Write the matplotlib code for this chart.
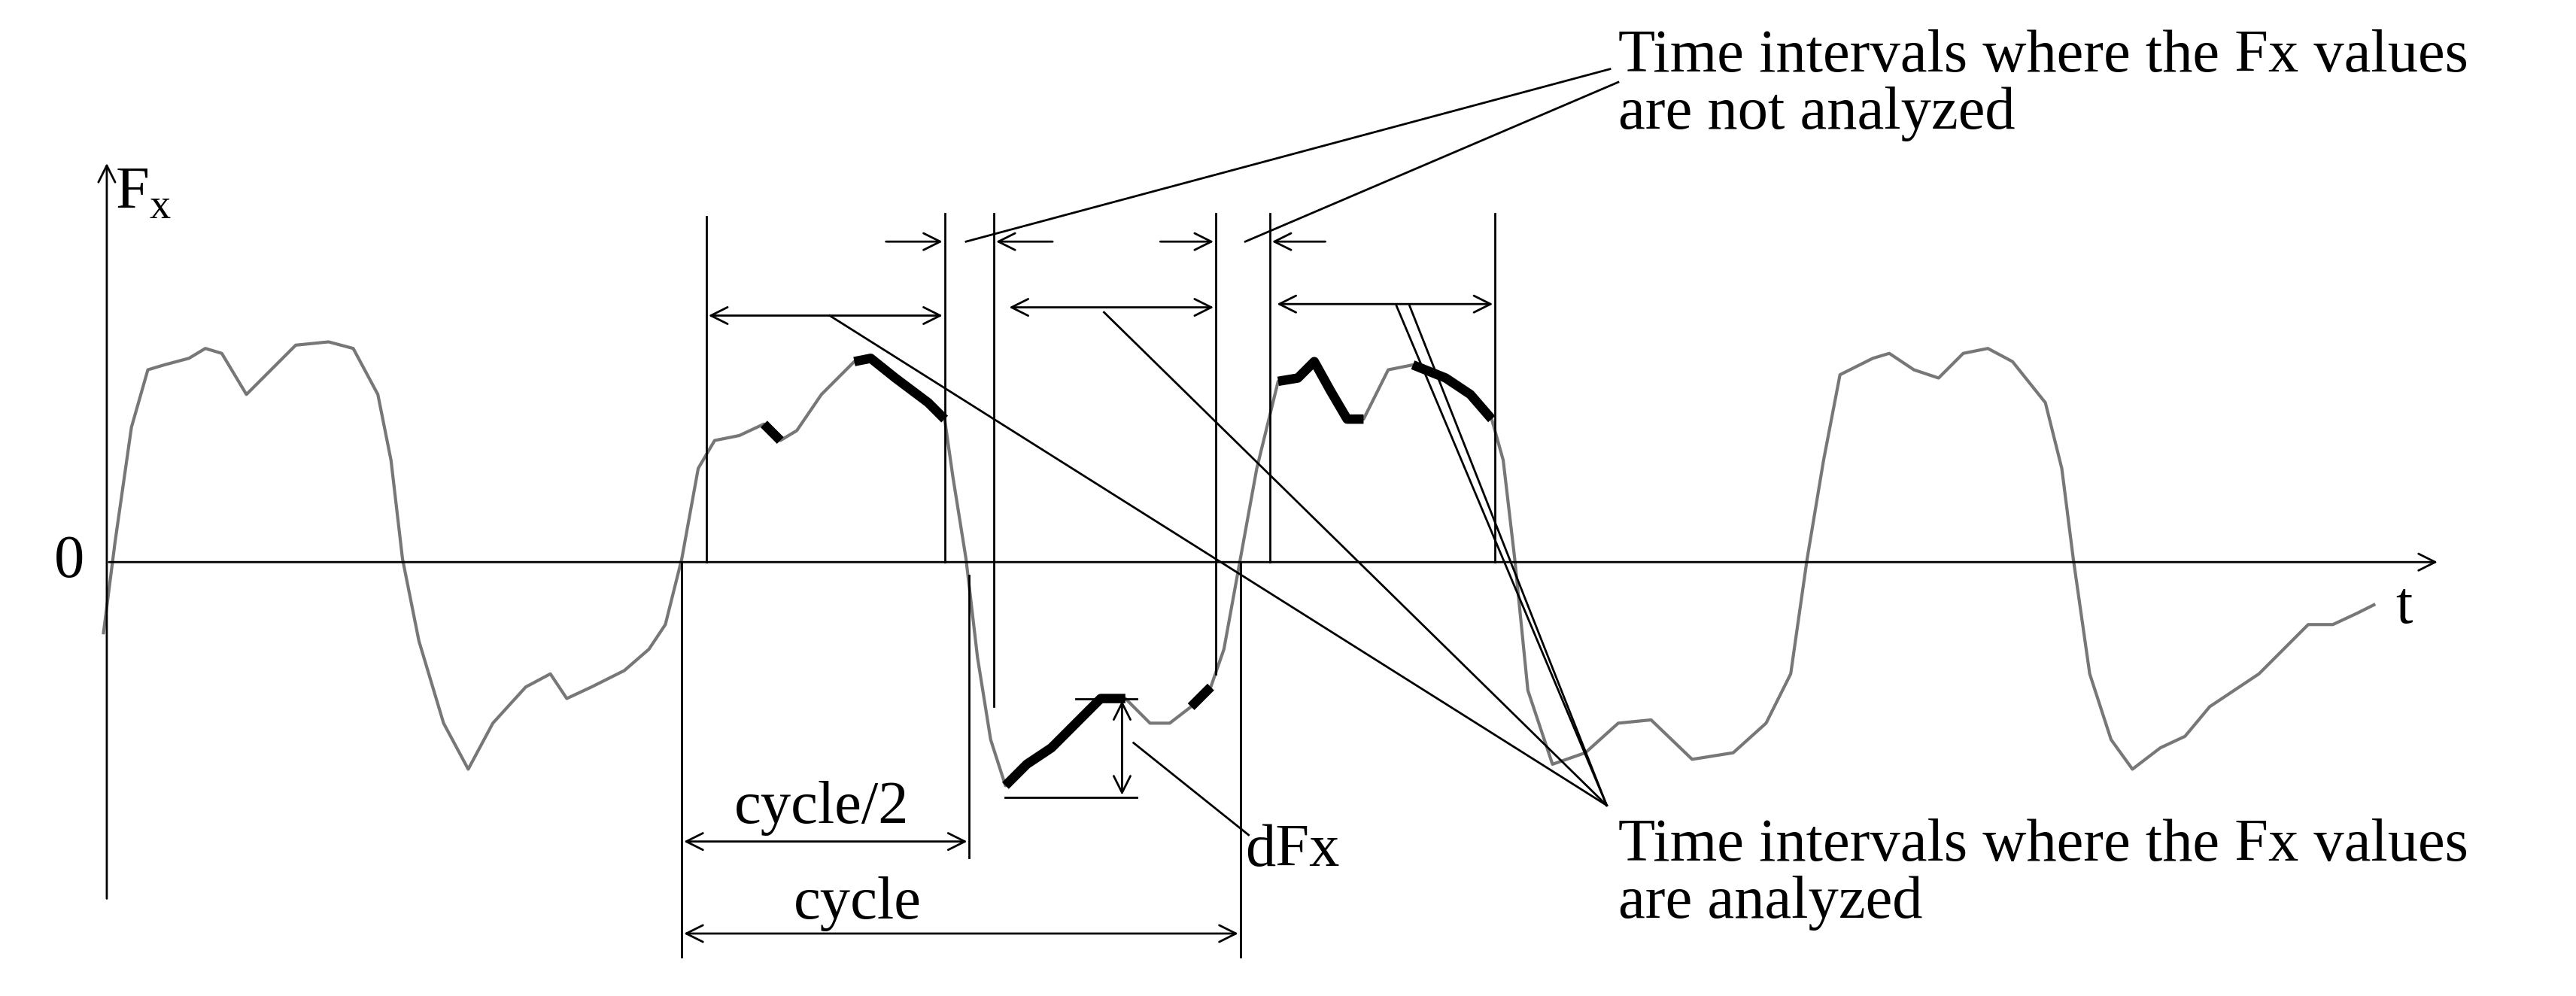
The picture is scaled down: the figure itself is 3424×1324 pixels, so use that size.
import matplotlib.pyplot as plt

plt.rcParams['font.family'] = ['Liberation Serif', 'DejaVu Serif']

# curve points (x, y in picture units, y=342 is zero)
curve_x = [63, 70, 80, 90, 100, 115, 125, 135, 150, 165, 180, 200, 215, 230, 238, 245, 255, 270, 285,
           300, 320, 335, 345, 360, 380, 395, 405, 415, 425, 435, 450, 465, 475, 485, 500, 520, 530,
           545, 565, 575, 580, 588, 595, 603, 612, 625, 640, 655, 670, 685, 700, 712, 725, 737, 745,
           755, 765, 778, 790, 800, 810, 820, 830, 845, 860, 880, 895, 908, 915, 922, 930, 945, 965,
           985, 1005, 1030, 1055, 1075, 1090, 1100, 1110, 1120, 1140, 1150, 1165, 1180, 1195, 1210,
           1225, 1245, 1255, 1262, 1272, 1285, 1298, 1315, 1330, 1345, 1360, 1375, 1390, 1405, 1420,
           1435, 1445]
curve_y = [385, 330, 260, 225, 222, 218, 212, 215, 240, 225, 210, 208, 212, 240, 280, 340, 390, 440, 468,
           440, 418, 410, 425, 418, 408, 395, 380, 340, 285, 268, 265, 258, 268, 262, 240, 220, 218,
           230, 245, 255, 290, 340, 400, 450, 478, 465, 455, 440, 425, 425, 440, 440, 430, 418, 395,
           340, 285, 232, 230, 220, 238, 255, 255, 225, 222, 230, 240, 255, 280, 340, 420, 465, 458,
           440, 438, 462, 458, 440, 410, 340, 280, 228, 218, 215, 225, 230, 215, 212,
           220, 245, 285, 340, 410, 450, 468, 455, 448, 430, 420, 410, 395, 380, 380,
           373, 368]
# analyzed (thick) x ranges
thick = [(462, 482), (518, 578), (612, 692), (716, 740), (778, 832), (858, 910)]

fig = plt.figure(figsize=(34.24, 13.24), dpi=100)
ax = fig.add_axes([0, 0, 1, 1])
ax.set_xlim(0, 1568)
ax.set_ylim(606, 0)
ax.axis('off')

ax.plot(curve_x, curve_y, color='#777777', lw=3)
for a, b in thick:
    xs = [x for x in curve_x if a <= x <= b]
    ys = [y for x, y in zip(curve_x, curve_y) if a <= x <= b]
    ax.plot(xs, ys, color='black', lw=9, solid_capstyle='butt')

k = dict(color='black', lw=2)
arr = dict(arrowstyle='->', color='black', lw=2, mutation_scale=40)
darr = dict(arrowstyle='<->', color='black', lw=2, mutation_scale=40)
fs = 58

# axes
ax.annotate('', xy=(65, 98), xytext=(65, 548), arrowprops=arr)
ax.annotate('', xy=(1485, 342), xytext=(65, 342), arrowprops=arr)
ax.text(70, 118, 'F$_\\mathregular{x}$', fontsize=fs, va='center')
ax.text(42, 342, '0', fontsize=fs, va='center', ha='center')
ax.text(1458, 370, 't', fontsize=fs, va='center')

# vertical markers
for x, y0, y1 in [(430, 132, 342), (575, 130, 342), (605, 130, 430), (740, 130, 410),
                  (773, 130, 342), (910, 130, 342), (415, 342, 582), (590, 350, 522),
                  (755, 342, 582)]:
    ax.plot([x, x], [y0, y1], **k)

# not analyzed marks
ax.annotate('', xy=(575, 147), xytext=(538, 147), arrowprops=arr)
ax.annotate('', xy=(605, 147), xytext=(642, 147), arrowprops=arr)
ax.annotate('', xy=(740, 147), xytext=(705, 147), arrowprops=arr)
ax.annotate('', xy=(773, 147), xytext=(808, 147), arrowprops=arr)

# analyzed spans
ax.annotate('', xy=(430, 192), xytext=(575, 192), arrowprops=darr)
ax.annotate('', xy=(613, 187), xytext=(740, 187), arrowprops=darr)
ax.annotate('', xy=(776, 185), xytext=(910, 185), arrowprops=darr)

# cycle
ax.annotate('', xy=(415, 512), xytext=(590, 512), arrowprops=darr)
ax.annotate('', xy=(415, 568), xytext=(755, 568), arrowprops=darr)
ax.text(500, 492, 'cycle/2', fontsize=fs, ha='center', va='center')
ax.text(522, 550, 'cycle', fontsize=fs, ha='center', va='center')

# dFx
ax.plot([655, 692], [425, 425], **k)
ax.plot([612, 692], [485, 485], **k)
ax.annotate('', xy=(683, 425), xytext=(683, 485), arrowprops=darr)
ax.plot([760, 690], [508, 452], **k)
ax.text(758, 518, 'dFx', fontsize=fs, va='center')

# leaders
ax.plot([980, 588], [42, 147], **k)
ax.plot([985, 758], [50, 147], **k)
for x, y in [(505, 192), (672, 190), (850, 186), (858, 186)]:
    ax.plot([978, x], [490, y], **k)

ax.text(985, 52, 'Time intervals where the Fx values\nare not analyzed', fontsize=fs,
        va='center', linespacing=1.05)
ax.text(985, 532, 'Time intervals where the Fx values\nare analyzed', fontsize=fs,
        va='center', linespacing=1.05)

fig.savefig('out.png', dpi=100)
